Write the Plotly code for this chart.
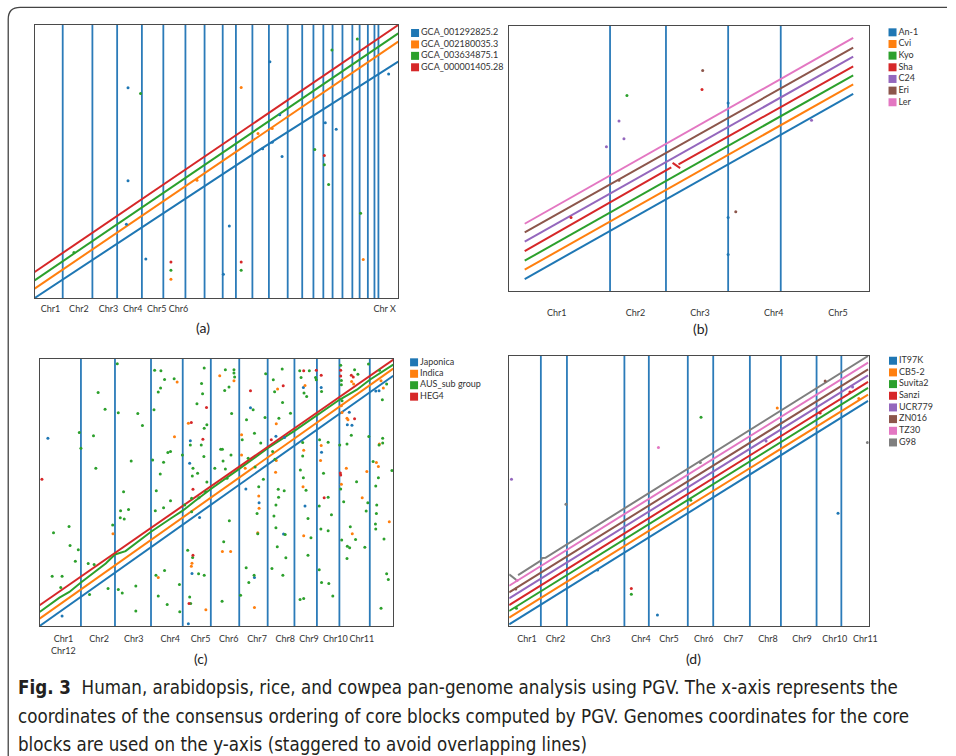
import plotly.graph_objects as go

W, H = 956, 756
TAB = ["#1f77b4", "#ff7f0e", "#2ca02c", "#d62728", "#9467bd", "#8c564b", "#e377c2", "#7f7f7f"]

# ---------------- Panel (a): human ----------------
a_names = ["GCA_001292825.2", "GCA_002180035.3", "GCA_003634875.1", "GCA_000001405.28"]
a_x_extent = [0, 1102]
a_y_extent = [0, 818]
a_chr_bounds = [85, 175, 250, 325, 390, 457, 515, 570, 610, 660, 710, 767, 811, 845, 875,
                903, 933, 963, 985, 1010, 1030, 1042]
a_tick_pos = [48, 134, 224, 297, 370, 436, 1061]
a_tick_text = ["Chr1", "Chr2", "Chr3", "Chr4", "Chr5", "Chr6", "Chr X"]
a_line_x = [[0, 685, 1102], [0, 1102], [0, 1102], [0, 1102]]
a_line_y = [[0, 446, 708], [28, 768], [53, 793], [78, 818]]
a_dots_x = [
    [283, 713, 1073, 283, 278, 337, 572, 590, 750, 914, 881, 743, 691, 720],
    [626, 413, 996, 720, 677, 492],
    [321, 978, 901, 988, 891, 878, 849, 119, 413, 626],
    [413, 626, 878],
]
a_dots_y = [
    [630, 708, 671, 351, 221, 117, 71, 216, 424, 506, 525, 549, 447, 467],
    [631, 56, 115, 508, 493, 353],
    [613, 776, 743, 254, 340, 399, 445, 136, 83, 83],
    [108, 108, 427],
]

# ---------------- Panel (b): arabidopsis ----------------
b_names = ["An-1", "Cvi", "Kyo", "Sha", "C24", "Eri", "Ler"]
b_x_extent = [0, 1087]
b_y_extent = [0, 796]
b_chr_bounds = [305, 474, 662, 821]
b_tick_pos = [144, 382, 577, 800, 994]
b_tick_text = ["Chr1", "Chr2", "Chr3", "Chr4", "Chr5"]
b_line_x = [[47, 1040], [47, 1040], [47, 1040],
            [47, 490, None, 494, 517, None, 512, 1040],
            [47, 1040], [47, 1040], [47, 1040]]
b_line_y = [[36, 592], [64, 621], [91, 648],
            [120, 371, None, 385, 369, None, 380, 675],
            [148, 704], [176, 731], [202, 760]]
b_dots_x = [[662, 662, 662], [], [356], [583, 187], [332, 347, 294, 914], [585, 332, 685], []]
b_dots_y = [[565, 221, 110], [], [587], [605, 221], [511, 457, 433, 513], [662, 333, 238], []]

# ---------------- Panel (c): rice ----------------
c_names = ["Japonica", "Indica", "AUS_sub group", "HEG4"]
c_x_extent = [0, 1070]
c_y_extent = [0, 799]
c_chr_bounds = [125, 228, 337, 433, 518, 604, 690, 771, 839, 907, 999]
c_tick_pos = [72, 180, 285, 395, 487, 572, 658, 743, 815, 895, 975]
c_tick_text = ["Chr1<br>Chr12", "Chr2", "Chr3", "Chr4", "Chr5", "Chr6", "Chr7", "Chr8",
               "Chr9", "Chr10", "Chr11"]
c_line_x = [
    [0, 1070],
    [0, 1070],
    [0, 60, 90, 125, 200, 228, 260, 337, 400, 433, 470, 518, 604, 690, 771, 839, 907, 960, 999, 1070],
    [0, 1070],
]
c_line_y = [
    [0, 749],
    [22, 770],
    [42, 85, 102, 130, 187, 214, 224, 282, 324, 345, 374, 410, 470, 532, 584, 630, 677, 707, 737, 782],
    [62, 797],
]
c_dots_x = [
    [798, 852, 1017, 1027, 638, 456, 454, 25, 484, 624, 664, 715, 741, 738, 803, 853, 937, 931,
     945, 68, 461, 450, 650],
    [416, 545, 588, 720, 803, 950, 944, 1033, 1040, 716, 450, 408, 222, 611, 611, 622, 663, 664,
     714, 716, 799, 797, 799, 852, 850, 913, 928, 946, 976, 990, 913, 915, 930, 933, 1019, 1025,
     1028, 1058, 359, 459, 461, 503, 553, 578, 650, 660],
    [235, 348, 367, 378, 407, 366, 359, 490, 498, 562, 588, 588, 590, 573, 560, 684, 707, 734,
     711, 787, 816, 835, 791, 800, 808, 853, 837, 911, 913, 913, 953, 963, 995, 1028, 1037, 1050,
     177, 198, 646, 626, 682, 724, 735, 759, 346, 297, 238, 311, 581, 476, 493, 498, 506, 489,
     456, 497, 163, 120, 125, 170, 277, 342, 375, 388, 396, 432, 365, 353, 375, 396, 350, 254,
     245, 269, 244, 256, 221, 464, 462, 478, 460, 439, 460, 482, 502, 506, 530, 548, 553, 579,
     555, 562, 567, 613, 631, 650, 669, 652, 677, 663, 658, 705, 712, 722, 740, 723, 715, 709,
     715, 743, 719, 745, 796, 796, 789, 798, 806, 812, 821, 812, 788, 799, 847, 873, 859, 846,
     873, 883, 851, 873, 846, 853, 875, 887, 911, 920, 940, 914, 931, 938, 930, 959, 956, 984,
     915, 943, 930, 908, 996, 1009, 1025, 1017, 1038, 1027, 1038, 1066, 988, 993, 1020, 1019,
     1016, 1017, 1042, 1050, 1055, 1033, 38, 68, 42, 89, 92, 117, 108, 64, 147, 165, 151, 207,
     238, 250, 291, 291, 352, 359, 378, 386, 423, 424, 448, 463, 481, 498, 457, 454, 552, 557,
     574, 608, 625, 633, 649, 660, 703, 736],
    [737, 799, 837, 852, 911, 911, 943, 949, 638, 505, 459, 494, 7, 464, 701, 861, 910, 911,
     953, 464, 452],
]
c_dots_y = [
    [714, 714, 703, 704, 653, 554, 487, 562, 325, 410, 369, 568, 564, 275, 359, 520, 640, 602,
     601, 30, 157, 7, 145],
    [730, 749, 734, 709, 720, 724, 732, 734, 712, 605, 607, 566, 276, 572, 512, 472, 389, 352,
     460, 495, 526, 417, 270, 540, 495, 424, 472, 276, 384, 462, 659, 639, 622, 617, 489, 477,
     545, 312, 145, 179, 188, 49, 223, 223, 55, 279],
    [785, 765, 764, 738, 740, 712, 700, 726, 772, 767, 767, 757, 745, 715, 705, 755, 737, 769,
     701, 764, 764, 744, 744, 697, 687, 702, 737, 780, 735, 722, 767, 753, 784, 765, 677, 724,
     699, 649, 647, 617, 624, 622, 669, 637, 647, 636, 638, 600, 636, 665, 695, 592, 602, 542,
     542, 507, 569, 579, 532, 472, 494, 497, 490, 519, 522, 512, 455, 405, 354, 375, 345, 402,
     345, 349, 324, 320, 302, 472, 449, 457, 382, 362, 342, 384, 402, 431, 472, 529, 529, 512,
     494, 470, 442, 557, 502, 577, 548, 476, 439, 417, 337, 522, 499, 409, 405, 385, 362, 329,
     294, 274, 237, 204, 549, 509, 467, 444, 406, 322, 264, 212, 79, 82, 557, 550, 457, 359,
     385, 333, 290, 285, 168, 130, 127, 90, 410, 372, 297, 257, 239, 234, 202, 432, 259, 236,
     674, 571, 545, 542, 567, 492, 444, 419, 548, 542, 562, 465, 344, 369, 362, 337,
     305, 290, 260, 156, 139, 53, 149, 149, 279, 298, 241, 228, 194, 115, 187, 184, 94, 112,
     109, 99, 120, 45, 152, 90, 166, 64, 124, 43, 227, 205, 156, 152, 67, 87, 74, 252,
     315, 92, 174, 130, 152, 276, 172, 152],
    [719, 764, 765, 750, 765, 748, 750, 745, 704, 654, 609, 559, 439, 409, 557, 384, 458, 452,
     620, 212, 67],
]

# ---------------- Panel (d): cowpea ----------------
d_names = ["IT97K", "CB5-2", "Suvita2", "Sanzi", "UCR779", "ZN016", "TZ30", "G98"]
d_x_extent = [0, 1089]
d_y_extent = [0, 811]
d_chr_bounds = [96, 175, 349, 423, 541, 618, 729, 823, 931, 1006]
d_tick_pos = [54, 140, 277, 399, 484, 589, 679, 784, 887, 986, 1079]
d_tick_text = ["Chr1", "Chr2", "Chr3", "Chr4", "Chr5", "Chr6", "Chr7", "Chr8", "Chr9",
               "Chr10", "Chr11"]
d_line_x = [[0, 1087], [0, 1087], [0, 1087], [0, 1087], [0, 1087], [0, 1087], [0, 1087],
            [0, 22, None, 27, 97, 99, 110, 1087]]
d_line_y = [[5, 676], [25, 695], [45, 715], [63, 733], [83, 753], [101, 771], [121, 791],
            [155, 138, None, 153, 197, 204, 205, 811]]
d_dots_x = [[449, 996, 268], [812, 1059], [581, 370, 550, 22], [370, 942, 1032], [7, 778, 1040],
            [957, 20], [452, 24], [579, 172, 1085]]
d_dots_y = [[33, 339, 168], [655, 683], [627, 95, 378, 53], [113, 640, 703], [441, 556, 718],
            [736, 111], [536, 137], [491, 366, 551]]

panels = [
    dict(names=a_names, xe=a_x_extent, ye=a_y_extent, bounds=a_chr_bounds, tp=a_tick_pos,
         tt=a_tick_text, lx=a_line_x, ly=a_line_y, dx=a_dots_x, dy=a_dots_y,
         dom=([35, 402], [25, 298]), standoff=2, leg=(419, [27.3, 73.0])),
    dict(names=b_names, xe=b_x_extent, ye=b_y_extent, bounds=b_chr_bounds, tp=b_tick_pos,
         tt=b_tick_text, lx=b_line_x, ly=b_line_y, dx=b_dots_x, dy=b_dots_y,
         dom=([514, 877], [26, 291]), standoff=13, leg=(901, [26.5, 108.1])),
    dict(names=c_names, xe=c_x_extent, ye=c_y_extent, bounds=c_chr_bounds, tp=c_tick_pos,
         tt=c_tick_text, lx=c_line_x, ly=c_line_y, dx=c_dots_x, dy=c_dots_y,
         dom=([40, 397], [359, 626]), standoff=4, leg=(418, [356.6, 402.4])),
    dict(names=d_names, xe=d_x_extent, ye=d_y_extent, bounds=d_chr_bounds, tp=d_tick_pos,
         tt=d_tick_text, lx=d_line_x, ly=d_line_y, dx=d_dots_x, dy=d_dots_y,
         dom=([514, 877], [356, 626]), standoff=4, leg=(901.5, [354.9, 448.3])),
]

FONT = "Lato, 'Open Sans', sans-serif"
fig = go.Figure()
layout = dict(width=W, height=H, margin=dict(l=0, r=0, t=0, b=0), showlegend=False,
              paper_bgcolor="white", plot_bgcolor="white")

for i, p in enumerate(panels):
    n = i + 1
    xa, ya = ("x" if n == 1 else f"x{n}"), ("y" if n == 1 else f"y{n}")
    # chromosome boundaries
    vx, vy = [], []
    for b in p["bounds"]:
        vx += [b, b, None]
        vy += [p["ye"][0], p["ye"][1], None]
    fig.add_trace(go.Scatter(x=vx, y=vy, mode="lines", xaxis=xa, yaxis=ya,
                             line=dict(color="#2b7bb9", width=1.8), hoverinfo="skip"))
    # genome lines
    for k, name in enumerate(p["names"]):
        fig.add_trace(go.Scatter(x=p["lx"][k], y=p["ly"][k], mode="lines", name=name,
                                 xaxis=xa, yaxis=ya, connectgaps=False,
                                 line=dict(color=TAB[k], width=2)))
    # scattered blocks
    for k, name in enumerate(p["names"]):
        if p["dx"][k]:
            fig.add_trace(go.Scatter(x=p["dx"][k], y=p["dy"][k], mode="markers", name=name,
                                     xaxis=xa, yaxis=ya,
                                     marker=dict(color=TAB[k], size=3)))
    (x0, x1), (yt, yb) = p["dom"]
    layout["xaxis" if n == 1 else f"xaxis{n}"] = dict(
        domain=[x0 / W, x1 / W], range=p["xe"], showgrid=False, zeroline=False,
        showline=True, mirror=True, linecolor="#4a4a4a", linewidth=1.2,
        tickmode="array", tickvals=p["tp"], ticktext=p["tt"], ticks="", tickangle=0,
        ticklabelstandoff=p["standoff"], tickfont=dict(family=FONT, size=9, color="#333"),
        anchor=ya, fixedrange=True)
    layout["yaxis" if n == 1 else f"yaxis{n}"] = dict(
        domain=[1 - yb / H, 1 - yt / H], range=p["ye"], showgrid=False, zeroline=False,
        showline=True, mirror=True, linecolor="#4a4a4a", linewidth=1.2,
        showticklabels=False, ticks="", anchor=xa, fixedrange=True)

    # legend drawn as a small category axis (1 unit = 1 px horizontally)
    m = n + 4
    lxc, (lt, lb) = p["leg"]
    nn = len(p["names"])
    fig.add_trace(go.Scatter(x=[14] * nn, y=p["names"], mode="markers+text",
                             text=p["names"], textposition="middle right",
                             textfont=dict(family=FONT, size=9, color="#333"),
                             marker=dict(symbol="square", size=8, color=TAB[:nn]),
                             xaxis=f"x{m}", yaxis=f"y{m}", cliponaxis=False, hoverinfo="skip"))
    layout[f"xaxis{m}"] = dict(domain=[(lxc - 14) / W, (lxc + 36) / W], range=[0, 50],
                               visible=False, fixedrange=True, anchor=f"y{m}")
    layout[f"yaxis{m}"] = dict(domain=[1 - lb / H, 1 - lt / H], type="category",
                               categoryorder="array", categoryarray=p["names"],
                               range=[nn - 0.5, -0.5], visible=False, fixedrange=True,
                               anchor=f"x{m}")

# sub-figure letters
letters = [("(a)", 205, 327), ("(b)", 707, 328), ("(c)", 203, 658), ("(d)", 700, 658)]
anns = [dict(text=t, x=x / W, y=1 - y / H, xref="paper", yref="paper", showarrow=False,
             xanchor="center", yanchor="middle", font=dict(family=FONT, size=14, color="#222"))
        for t, x, y in letters]

caption_lines = [
    "<b>Fig. 3</b>  Human, arabidopsis, rice, and cowpea pan-genome analysis using PGV. The x-axis represents the",
    "coordinates of the consensus ordering of core blocks computed by PGV. Genomes coordinates for the core",
    "blocks are used on the y-axis (staggered to avoid overlapping lines)",
]
CAP_FONT = "'Liberation Sans Narrow', 'DejaVu Sans Condensed', sans-serif"
for line, y in zip(caption_lines, [687, 716, 744]):
    anns.append(dict(text=line, x=16 / W, y=1 - y / H, xref="paper", yref="paper",
                     showarrow=False, xanchor="left", yanchor="middle",
                     font=dict(family=CAP_FONT, size=18.6, color="#231f20")))
layout["annotations"] = anns

# outer rounded frame
r = 12
fx, fy = 8.3, 7.3
path = (f"M {fx / W},0 L {fx / W},{1 - (fy + r) / H} "
        f"Q {fx / W},{1 - fy / H} {(fx + r) / W},{1 - fy / H} L 1,{1 - fy / H}")
layout["shapes"] = [dict(type="path", path=path, xref="paper", yref="paper",
                         line=dict(color="#444", width=1.3))]

fig.update_layout(**layout)
fig.write_html("out.html", config={"displayModeBar": False},
               post_script="document.body.style.margin='0';document.body.style.overflow='hidden';")
